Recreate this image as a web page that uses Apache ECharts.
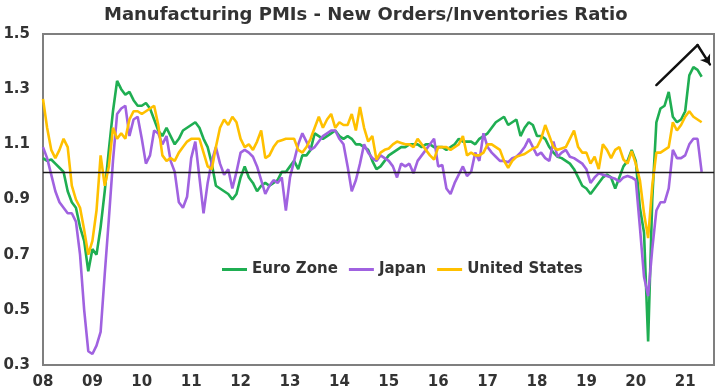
<!DOCTYPE html>
<html>
<head>
<meta charset="utf-8">
<script src="https://cdn.jsdelivr.net/npm/echarts@6/dist/echarts.min.js"></script>
<style>html,body{margin:0;padding:0;background:#fff}#chart{width:720px;height:392px}</style>
</head>
<body>
<div id="chart"></div>
<script>
// Monthly categories Jan 2008 .. Aug 2021
const categories = [];
for (let y = 2008; y <= 2021; y++) {
  for (let m = 1; m <= 12; m++) {
    if (y === 2021 && m > 8) break;
    categories.push(y + '-' + String(m).padStart(2, '0'));
  }
}
const yTickLabels = ['0.3', '0.5', '0.7', '0.9', '1.1', '1.3', '1.5'];
const seriesNames = ['Euro Zone', 'Japan', 'United States'];

const euroZone = [
  1.05,1.04,1.045,1.03,1.015,1.00,0.93,0.89,0.87,0.80,0.75,0.64,
  0.72,0.70,0.80,0.93,1.08,1.22,1.33,1.30,1.28,1.29,1.26,1.24,
  1.24,1.25,1.23,1.19,1.15,1.13,1.16,1.13,1.10,1.12,1.15,1.16,
  1.17,1.18,1.16,1.12,1.09,1.03,0.95,0.94,0.93,0.92,0.90,0.92,
  0.98,1.02,0.98,0.96,0.93,0.95,0.96,0.95,0.96,0.97,1.00,1.00,
  1.02,1.04,1.01,1.06,1.06,1.08,1.14,1.13,1.12,1.13,1.14,1.15,
  1.13,1.12,1.13,1.12,1.10,1.10,1.09,1.08,1.04,1.01,1.02,1.04,
  1.06,1.07,1.08,1.09,1.09,1.10,1.10,1.10,1.09,1.10,1.10,1.09,
  1.09,1.09,1.08,1.09,1.10,1.12,1.11,1.11,1.11,1.10,1.12,1.13,
  1.14,1.16,1.18,1.19,1.20,1.17,1.18,1.19,1.13,1.16,1.18,1.17,
  1.13,1.13,1.12,1.09,1.07,1.055,1.05,1.04,1.03,1.01,0.98,0.95,
  0.94,0.92,0.94,0.96,0.98,0.99,0.98,0.94,0.98,1.02,1.04,1.08,
  1.04,0.87,0.78,0.385,0.90,1.18,1.23,1.24,1.29,1.20,1.18,1.19,
  1.22,1.35,1.38,1.37,1.345
];
const japan = [
  1.09,1.05,0.99,0.93,0.89,0.87,0.85,0.85,0.82,0.70,0.50,0.35,
  0.34,0.37,0.42,0.63,0.83,1.04,1.21,1.23,1.24,1.13,1.19,1.20,
  1.12,1.03,1.06,1.15,1.14,1.10,1.13,1.04,1.00,0.89,0.87,0.91,
  1.05,1.11,0.98,0.85,0.96,1.04,1.09,1.03,0.99,1.01,0.94,1.00,
  1.07,1.08,1.07,1.055,1.02,0.97,0.92,0.95,0.97,0.96,0.98,0.86,
  0.98,1.04,1.10,1.14,1.11,1.08,1.09,1.11,1.13,1.14,1.15,1.15,
  1.12,1.10,1.02,0.93,0.97,1.03,1.10,1.07,1.05,1.04,1.06,1.05,
  1.04,1.02,0.98,1.03,1.02,1.03,0.995,1.04,1.06,1.08,1.10,1.12,
  1.02,1.025,0.94,0.92,0.96,0.99,1.02,0.985,1.00,1.07,1.04,1.14,
  1.09,1.07,1.055,1.04,1.04,1.035,1.05,1.055,1.07,1.09,1.12,1.09,
  1.06,1.07,1.05,1.04,1.11,1.055,1.07,1.08,1.055,1.05,1.04,1.03,
  1.01,0.96,0.98,0.995,0.99,0.985,0.98,0.975,0.965,0.98,0.985,0.98,
  0.97,0.80,0.62,0.55,0.72,0.86,0.89,0.89,0.94,1.08,1.05,1.05,
  1.06,1.10,1.12,1.12,1.00
];
const unitedStates = [
  1.265,1.16,1.08,1.05,1.08,1.12,1.09,0.95,0.90,0.87,0.79,0.70,
  0.75,0.86,1.06,0.95,1.02,1.16,1.12,1.14,1.12,1.19,1.22,1.22,
  1.21,1.22,1.23,1.24,1.17,1.06,1.04,1.05,1.04,1.07,1.09,1.11,
  1.12,1.12,1.12,1.07,1.02,1.01,1.09,1.16,1.19,1.17,1.20,1.18,
  1.12,1.09,1.10,1.08,1.11,1.15,1.05,1.06,1.09,1.11,1.115,1.12,
  1.12,1.12,1.08,1.07,1.09,1.12,1.16,1.20,1.16,1.19,1.21,1.16,
  1.18,1.17,1.17,1.21,1.15,1.235,1.16,1.11,1.13,1.045,1.07,1.08,
  1.085,1.10,1.11,1.105,1.10,1.10,1.09,1.12,1.10,1.08,1.06,1.045,
  1.09,1.09,1.09,1.08,1.09,1.10,1.13,1.06,1.07,1.06,1.06,1.07,
  1.10,1.10,1.09,1.08,1.04,1.015,1.04,1.055,1.06,1.065,1.075,1.085,
  1.09,1.12,1.17,1.13,1.09,1.08,1.085,1.09,1.12,1.15,1.09,1.07,
  1.07,1.03,1.055,1.01,1.10,1.08,1.05,1.08,1.09,1.045,1.03,1.075,
  1.03,0.97,0.85,0.76,0.95,1.07,1.07,1.08,1.09,1.18,1.15,1.17,
  1.20,1.22,1.20,1.19,1.18
];
const referenceLevel = 1.0;
// annotation arrow segments: [category index, value]
const arrowRise = [[149, 1.315], [159, 1.46]];
const arrowFall = [[159, 1.46], [162, 1.39]];

const colors = ['#1fae52', '#a062e0', '#ffc000'];
const fontFamily = 'DejaVu Sans';

const chart = echarts.init(document.getElementById('chart'), null, { renderer: 'canvas' });
const lineSeries = [euroZone, japan, unitedStates].map((d, i) => ({
  name: seriesNames[i],
  type: 'line',
  data: d,
  symbol: 'none',
  showSymbol: false,
  lineStyle: { width: 2.6, color: colors[i] },
  itemStyle: { color: colors[i] },
  z: 2 + i,
  animation: false
}));

chart.setOption({
  animation: false,
  backgroundColor: '#ffffff',
  title: {
    text: 'Manufacturing PMIs - New Orders/Inventories Ratio',
    left: 99,
    top: 1,
    textStyle: { fontFamily, fontWeight: 'bold', fontSize: 18, color: '#333' }
  },
  legend: {
    data: seriesNames,
    left: 222,
    top: 262,
    padding: 0,
    icon: 'rect',
    itemWidth: 25,
    itemHeight: 3,
    itemGap: 11,
    textStyle: { fontFamily, fontWeight: 'bold', fontSize: 15, color: '#333' }
  },
  grid: {
    left: 43, right: 6, top: 34, bottom: 27,
    containLabel: false,
    show: true,
    borderColor: '#7f7f7f',
    borderWidth: 2
  },
  xAxis: {
    type: 'category',
    data: categories,
    boundaryGap: false,
    axisLine: { show: false },
    axisTick: { show: false },
    splitLine: { show: false },
    axisLabel: {
      interval: (idx) => idx % 12 === 0,
      formatter: (v) => v.slice(2, 4),
      fontFamily, fontWeight: 'bold', fontSize: 15, color: '#333',
      margin: 10
    }
  },
  yAxis: {
    type: 'value',
    min: 0.3, max: 1.5, interval: 0.1,
    axisLine: { show: false },
    axisTick: { show: false },
    splitLine: { show: false },
    axisLabel: {
      showMinLabel: true, showMaxLabel: true,
      formatter: (v) => { const s = v.toFixed(1); return yTickLabels.includes(s) ? s : ''; },
      fontFamily, fontWeight: 'bold', fontSize: 15, color: '#333',
      margin: 13
    }
  },
  series: [
    ...lineSeries,
    {
      name: 'ref',
      type: 'line',
      data: [],
      z: 10,
      markLine: {
        silent: true,
        symbol: 'none',
        label: { show: false },
        lineStyle: { color: '#1a1a1a', width: 1.3, type: 'solid' },
        data: [{ yAxis: referenceLevel }]
      }
    },
    {
      name: 'arrowRise',
      type: 'lines',
      coordinateSystem: 'cartesian2d',
      symbol: ['none', 'none'],
      lineStyle: { color: '#111', width: 2.5, opacity: 1, cap: 'round' },
      data: [{ coords: arrowRise }],
      z: 10
    },
    {
      name: 'arrowFall',
      type: 'lines',
      coordinateSystem: 'cartesian2d',
      symbol: ['none', 'arrow'],
      symbolSize: 9,
      lineStyle: { color: '#111', width: 2.5, opacity: 1, cap: 'round' },
      data: [{ coords: arrowFall }],
      z: 10
    }
  ]
});
</script>
</body>
</html>
